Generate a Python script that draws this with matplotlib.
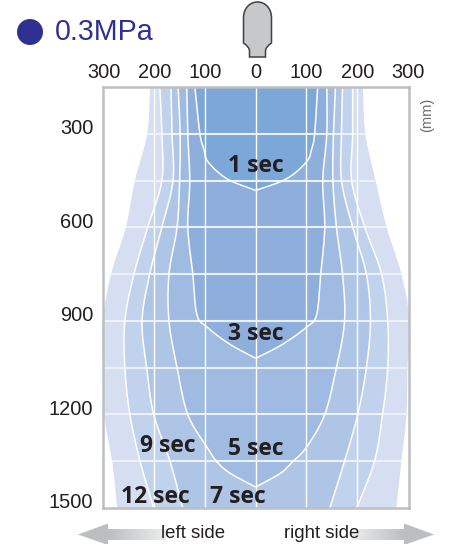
import numpy as np
import matplotlib
matplotlib.use("Agg")
import matplotlib.pyplot as plt
from matplotlib.patches import Circle, PathPatch, Polygon
from matplotlib.path import Path
from matplotlib.transforms import ScaledTranslation

# ---- data (mm) ----
x_ticks = [-300, -200, -100, 0, 100, 200, 300]
x_tick_labels = ["300", "200", "100", "0", "100", "200", "300"]
y_ticks = [300, 600, 900, 1200, 1500]
y_grid = [300, 450, 600, 750, 900, 1050, 1200, 1350]

depth_outer = [150, 300, 450, 600, 750, 900, 1050, 1200, 1350, 1500]
outer_left = [-208, -214, -238, -256, -285, -301, -301, -299, -283, -273]
outer_right = [211, 216, 236, 258, 287, 303, 299, 297, 287, 277]

depth_9s = [150, 300, 450, 600, 750, 900, 1050, 1200, 1350, 1500]
s9_left = [-189, -185, -185, -213, -240, -258, -258, -248, -228, -201]
s9_right = [191, 191, 189, 215, 248, 260, 260, 250, 234, 199]

depth_7s = [150, 300, 450, 600, 750, 900, 1050, 1200, 1350, 1500]
s7_left = [-167, -165, -163, -185, -209, -224, -215, -201, -169, -144]
s7_right = [171, 169, 169, 191, 218, 226, 218, 201, 175, 146]

depth_5s = [150, 300, 450, 600, 750, 900, 1050, 1200, 1305, 1351, 1388, 1433]
s5_left = [-153, -149, -150, -155, -171, -171, -155, -134, -96, -77, -51, 0]
s5_right = [157, 153, 152, 159, 171, 175, 159, 136, 100, 73, 49, 0]

depth_3s = [150, 300, 450, 600, 750, 880, 920, 975, 1020]
s3_left = [-136, -134, -130, -134, -124, -116, -96, -51, 0]
s3_right = [140, 140, 132, 136, 128, 120, 100, 53, 0]

depth_1s = [150, 300, 350, 390, 444, 482]
s1_left = [-120, -110, -102, -94, -57, 0]
s1_right = [122, 116, 110, 100, 61, 0]

contours = [
    (depth_outer, outer_left, outer_right, "#d5dff1", False),
    (depth_9s, s9_left, s9_right, "#c1d2ec", True),
    (depth_7s, s7_left, s7_right, "#afc5e6", True),
    (depth_5s, s5_left, s5_right, "#9fbbe2", True),
    (depth_3s, s3_left, s3_right, "#8eafdc", True),
    (depth_1s, s1_left, s1_right, "#7ba7d9", True),
]

zone_labels = ["1 sec", "3 sec", "5 sec", "9 sec", "12 sec", "7 sec"]
zone_x = [1, 0, 0, -174, -198, -35]
zone_y = [404, 943, 1310, 1302, 1464, 1464]


def smooth(xs, ys, n=16):
    """Catmull-Rom path through the read points."""
    p = np.column_stack([xs, ys]).astype(float)
    q = np.vstack([2 * p[0] - p[1], p, 2 * p[-1] - p[-2]])
    out = []
    for i in range(1, len(q) - 2):
        t = np.linspace(0, 1, n, endpoint=False)[:, None]
        a, b, c, d = q[i - 1], q[i], q[i + 1], q[i + 2]
        out.append(0.5 * (2 * b + (c - a) * t + (2 * a - 5 * b + 4 * c - d) * t ** 2
                          + (3 * b - a - 3 * c + d) * t ** 3))
    out.append(p[-1:])
    return np.vstack(out)


plt.rcParams["font.family"] = ["Liberation Sans", "DejaVu Sans"]
W, H = 449, 544
fig = plt.figure(figsize=(W / 100, H / 100), dpi=100)
L, R, T, B = 103, 408.5, 87, 508
ax = fig.add_axes([L / W, 1 - B / H, (R - L) / W, (B - T) / H])
ax.set_xlim(-301, 301)
ax.set_ylim(1500, 150)

for d, l, r, col, line in contours:
    left = smooth(l, d)
    right = smooth(r, d)
    poly = np.vstack([left, right[::-1]])
    ax.fill(poly[:, 0], poly[:, 1], color=col, lw=0, zorder=2, clip_on=False)
# grid over the fills, clipped to the outer shape
outer_poly = np.vstack([smooth(outer_left, depth_outer), smooth(outer_right, depth_outer)[::-1]])
clip = Polygon(outer_poly, transform=ax.transData, fc="none", ec="none")
ax.add_patch(clip)
for x in x_ticks[1:-1]:
    ln = ax.axvline(x, color="white", lw=1.0, zorder=3)
    ln.set_clip_path(clip)
for y in y_grid:
    ln = ax.axhline(y, color="#edf1f9", lw=1.5, zorder=3)
    ln.set_clip_path(clip)
for d, l, r, col, line in contours:
    if line:
        for side in (l, r):
            s = smooth(side, d)
            ax.plot(s[:, 0], s[:, 1], color="white", lw=1.1, zorder=4, solid_capstyle="butt")

for s in ax.spines.values():
    s.set_color("#bcbec0")
    s.set_linewidth(1.8)
    s.set_zorder(5)

ax.xaxis.tick_top()
ax.set_xticks(x_ticks, x_tick_labels)
ax.set_yticks(y_ticks, [str(v) for v in y_ticks])
ax.tick_params(length=0, labelsize=14.4, labelcolor="#231f20")
ax.tick_params(axis="x", pad=3.5)
ax.tick_params(axis="y", pad=7)
shift = ScaledTranslation(0, 7 / 100, fig.dpi_scale_trans)
for lab in ax.get_yticklabels():
    lab.set_transform(lab.get_transform() + shift)

for t, x, y in zip(zone_labels, zone_x, zone_y):
    ax.text(x, y, t, ha="center", va="center", fontsize=16.5, fontweight="bold",
            family=["Open Sans", "DejaVu Sans"], color="#231f20", zorder=6)

# overlay in pixels for decoration
ov = fig.add_axes([0, 0, 1, 1], zorder=10)
ov.patch.set_alpha(0)
ov.axis("off")

ov.add_patch(Circle((30, 32), 13, color="#2e3192", lw=0))
ov.text(54.5, 32, "0.3MPa", fontsize=20.6, color="#2e3192", ha="left", va="center")
ov.text(427, 115, "(mm)", fontsize=10.5, color="#6d6e71", rotation=90,
        ha="center", va="center", fontweight="light")

verts = [(249.5, 57), (249.5, 51), (249.5, 47), (243.5, 43), (243.5, 18),
         (243.5, 8), (250, 2), (257.5, 2), (265, 2), (271.5, 8), (271.5, 18),
         (271.5, 43), (265.5, 47), (265.5, 51), (265.5, 57), (249.5, 57)]
codes = [Path.MOVETO, Path.LINETO, Path.CURVE3, Path.CURVE3, Path.LINETO,
         Path.CURVE4, Path.CURVE4, Path.CURVE4, Path.CURVE4, Path.CURVE4, Path.CURVE4,
         Path.LINETO, Path.CURVE3, Path.CURVE3, Path.LINETO, Path.CLOSEPOLY]
ov.add_patch(PathPatch(Path(verts, codes), facecolor="#c7c8ca", edgecolor="#414042", lw=1.1))

grad = np.linspace(0, 1, 128).reshape(1, -1)
cmap = matplotlib.colors.LinearSegmentedColormap.from_list("g", ["#bcbec0", "#eceded"])
ov.imshow(grad, extent=(108, 166, 540, 529), cmap=cmap, aspect="auto", zorder=1)
ov.imshow(grad[:, ::-1], extent=(352, 404, 540, 529), cmap=cmap, aspect="auto", zorder=1)
ov.set_xlim(0, W)
ov.set_ylim(H, 0)
ov.add_patch(Polygon([(78, 534.5), (108, 523.5), (108, 545)], color="#bcbec0", lw=0))
ov.add_patch(Polygon([(434, 534.5), (404, 523.5), (404, 545)], color="#bcbec0", lw=0))
ov.text(193.5, 533, "left side", fontsize=13.4, color="#231f20", ha="center", va="center", zorder=3)
ov.text(321.5, 533, "right side", fontsize=13.4, color="#231f20", ha="center", va="center", zorder=3)

fig.savefig("out.png", dpi=100)
